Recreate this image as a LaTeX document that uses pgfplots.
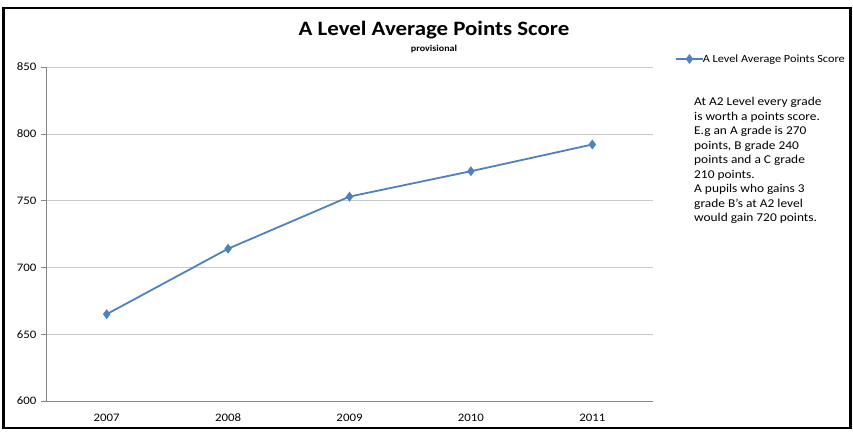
\documentclass[border=0pt]{standalone}
\usepackage{pgfplots}
\pgfplotsset{compat=1.18}
\usepackage{fontspec}
\setmainfont{Carlito}[FakeStretch=1.12]
\definecolor{lineblue}{HTML}{4F81BD}
\definecolor{gridgray}{HTML}{C8C8C8}
\definecolor{axisgray}{HTML}{868686}
\begin{document}
\begin{tikzpicture}[x=1bp,y=1bp]
\path[use as bounding box] (0,0) rectangle (853,-432);
\draw[line width=2.5bp,black] (3.5,-8) rectangle (850.5,-428);
\begin{axis}[
  at={(46bp,-401bp)}, anchor=south west,
  scale only axis, width=607bp, height=334bp,
  xmin=-0.5, xmax=4.5, ymin=600, ymax=850,
  xtick={0,1,2,3,4}, xticklabels={2007,2008,2009,2010,2011},
  extra x ticks={-0.5,0.5,1.5,2.5,3.5,4.5},
  extra x tick labels={},
  extra x tick style={major tick length=5bp, tick style={axisgray}, grid=none},
  ytick={600,650,700,750,800,850},
  axis x line*=bottom, axis y line*=left,
  axis line style={axisgray, line width=0.6bp},
  x axis line style={-}, y axis line style={-},
  ymajorgrids, grid style={gridgray, line width=0.6bp},
  major x tick style={draw=none},
  major y tick style={axisgray, line width=0.6bp},
  tick align=outside, major tick length=5bp,
  /pgf/number format/assume math mode=true,
  /pgf/number format/1000 sep={},
  yticklabel style={font=\fontsize{11.5}{13}\selectfont, xshift=-1bp},
  xticklabel style={font=\fontsize{11.5}{13}\selectfont, text height=8bp, text depth=0bp, anchor=north, yshift=-3.5bp},
  clip=false,
  legend style={at={(1.036,1.024)}, anchor=west, draw=none, fill=none,
    font=\fontsize{11}{13}\selectfont, inner sep=0pt,
    legend cell align=left},
  legend image code/.code={\draw[#1, mark repeat=2, mark phase=2] plot coordinates {(0bp,0bp) (13.5bp,0bp) (27bp,0bp)};},
  legend style={/tikz/every even column/.append style={column sep=0pt}},
]
\addplot[lineblue, line width=1.8bp, mark=diamond*, mark size=3.5bp, mark options={fill=lineblue, draw=lineblue}]
  coordinates {(0,665) (1,714) (2,753) (3,772) (4,792)};
\addlegendentry{\hspace{-3bp}A Level Average Points Score}
\end{axis}
\node[font=\fontsize{20.5}{24}\selectfont\bfseries] at (434,-30) {A Level Average Points Score};
\node[font=\fontsize{9}{10}\selectfont\bfseries] at (434,-49) {provisional};
\node[anchor=north west, inner sep=0pt, align=left, font=\fontsize{12}{14.6}\selectfont] at (694,-97) {At A2 Level every grade\\is worth a points score.\\E.g an A grade is 270\\points, B grade 240\\points and a C grade\\210 points.\\A pupils who gains 3\\grade B's at A2 level\\would gain 720 points.};
\end{tikzpicture}
\end{document}
